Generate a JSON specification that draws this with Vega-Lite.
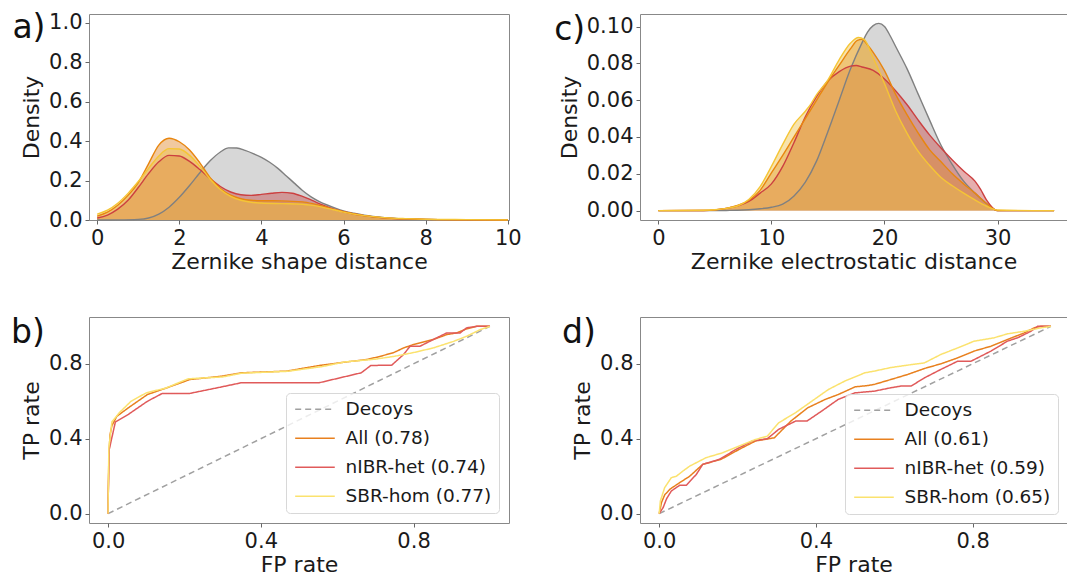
{
  "$schema": "https://vega.github.io/schema/vega-lite/v6.json",
  "background": "white",
  "padding": {"left": 10, "top": 11, "right": 0, "bottom": 0},
  "columns": 2,
  "spacing": {"row": 97, "column": 131},
  "bounds": "flush",
  "resolve": {"scale": {"x": "independent", "y": "independent", "color": "independent", "strokeDash": "independent", "fill": "independent", "stroke": "independent"}, "legend": {"color": "independent", "strokeDash": "independent"}},
  "concat": [
    {
      "width": 420, "height": 206,
      "data": {"name": "densA"},
      "title": {"text": "a)"},
      "layer": [
        {
          "mark": {"type": "area", "fillOpacity": 0.45, "interpolate": "monotone"},
          "encoding": {
            "x": {"field": "x", "type": "quantitative", "scale": {"domain": [-0.2, 10.03], "nice": false, "zero": false}, "axis": {"values": [0, 2, 4, 6, 8, 10], "title": "Zernike shape distance"}},
            "y": {"field": "y", "type": "quantitative", "stack": null, "scale": {"domain": [0, 1.045], "nice": false}, "axis": {"values": [0, 0.2, 0.4, 0.6, 0.8, 1.0], "format": ".1f", "title": "Density"}},
            "fill": {"field": "s", "type": "nominal", "scale": {"domain": ["Decoys", "All", "nIBR-het", "SBR-hom"], "range": ["#a6a6a6", "#e0872a", "#c84b4b", "#eec24a"]}, "legend": null}
          }
        },
        {
          "mark": {"type": "line", "strokeWidth": 1.4, "interpolate": "monotone"},
          "encoding": {
            "x": {"field": "x", "type": "quantitative"},
            "y": {"field": "y", "type": "quantitative"},
            "stroke": {"field": "s", "type": "nominal", "scale": {"domain": ["Decoys", "All", "nIBR-het", "SBR-hom"], "range": ["#808080", "#e8860f", "#cc4040", "#f5c535"]}, "legend": null}
          }
        }
      ]
    },
    {
      "width": 427, "height": 206,
      "data": {"name": "densC"},
      "title": {"text": "c)"},
      "view": {"stroke": null},
      "resolve": {"axis": {"x": "independent"}},
      "layer": [
        {
          "mark": {"type": "area", "fillOpacity": 0.45, "interpolate": "monotone"},
          "encoding": {
            "x": {"field": "x", "type": "quantitative", "scale": {"domain": [-1.62, 36.14], "nice": false, "zero": false}, "axis": {"values": [0, 10, 20, 30], "title": "Zernike electrostatic distance", "domain": true}},
            "y": {"field": "y", "type": "quantitative", "stack": null, "scale": {"domain": [-0.0051, 0.1068], "nice": false, "zero": false}, "axis": {"values": [0, 0.02, 0.04, 0.06, 0.08, 0.1], "format": ".2f", "title": "Density", "domain": true}},
            "fill": {"field": "s", "type": "nominal", "scale": {"domain": ["Decoys", "All", "nIBR-het", "SBR-hom"], "range": ["#a6a6a6", "#e0872a", "#c84b4b", "#eec24a"]}, "legend": null}
          }
        },
        {
          "mark": {"type": "line", "strokeWidth": 1.4, "interpolate": "monotone"},
          "encoding": {
            "x": {"field": "x", "type": "quantitative", "axis": {"orient": "top", "labels": false, "ticks": false, "title": null, "domain": true}},
            "y": {"field": "y", "type": "quantitative"},
            "stroke": {"field": "s", "type": "nominal", "scale": {"domain": ["Decoys", "All", "nIBR-het", "SBR-hom"], "range": ["#808080", "#e8860f", "#cc4040", "#f5c535"]}, "legend": null}
          }
        }
      ]
    },
    {
      "width": 420, "height": 206,
      "data": {"name": "rocB"},
      "title": {"text": "b)"},
      "encoding": {
        "x": {"field": "x", "type": "quantitative", "scale": {"domain": [-0.05, 1.05], "nice": false, "zero": false}, "axis": {"values": [0, 0.4, 0.8], "format": ".1f", "title": "FP rate"}},
        "y": {"field": "y", "type": "quantitative", "scale": {"domain": [-0.05, 1.05], "nice": false, "zero": false}, "axis": {"values": [0, 0.4, 0.8], "format": ".1f", "title": "TP rate"}},
        "color": {"field": "s", "type": "nominal", "scale": {"domain": ["Decoys", "All (0.78)", "nIBR-het (0.74)", "SBR-hom (0.77)"], "range": ["#a0a0a0", "#e8801e", "#e05a5a", "#fbe26e"]}, "legend": {"title": null, "offset": 10}},
        "strokeDash": {"field": "s", "type": "nominal", "scale": {"domain": ["Decoys", "All (0.78)", "nIBR-het (0.74)", "SBR-hom (0.77)"], "range": [[6, 4], [1, 0], [1, 0], [1, 0]]}, "legend": {"title": null, "offset": 10}},
        "order": {"field": "i", "type": "quantitative"}
      },
      "mark": {"type": "line", "strokeWidth": 1.5}
    },
    {
      "width": 427, "height": 206,
      "data": {"name": "rocD"},
      "title": {"text": "d)"},
      "view": {"stroke": null},
      "resolve": {"axis": {"x": "independent"}},
      "encoding": {
        "y": {"field": "y", "type": "quantitative", "scale": {"domain": [-0.05, 1.05], "nice": false, "zero": false}, "axis": {"values": [0, 0.4, 0.8], "format": ".1f", "title": "TP rate", "domain": true}},
        "color": {"field": "s", "type": "nominal", "scale": {"domain": ["Decoys", "All (0.61)", "nIBR-het (0.59)", "SBR-hom (0.65)"], "range": ["#a0a0a0", "#e8801e", "#e05a5a", "#fbe26e"]}, "legend": {"title": null, "offset": 9}},
        "strokeDash": {"field": "s", "type": "nominal", "scale": {"domain": ["Decoys", "All (0.61)", "nIBR-het (0.59)", "SBR-hom (0.65)"], "range": [[6, 4], [1, 0], [1, 0], [1, 0]]}, "legend": {"title": null, "offset": 9}},
        "order": {"field": "i", "type": "quantitative"}
      },
      "layer": [
        {
          "transform": [{"filter": "datum.s === 'Decoys'"}],
          "mark": {"type": "line", "strokeWidth": 1.5},
          "encoding": {
            "x": {"field": "x", "type": "quantitative", "scale": {"domain": [-0.049, 1.041], "nice": false, "zero": false}, "axis": {"values": [0, 0.4, 0.8], "format": ".1f", "title": "FP rate", "domain": true}}
          }
        },
        {
          "transform": [{"filter": "datum.s !== 'Decoys'"}],
          "mark": {"type": "line", "strokeWidth": 1.5},
          "encoding": {
            "x": {"field": "x", "type": "quantitative", "axis": {"orient": "top", "labels": false, "ticks": false, "title": null, "domain": true}}
          }
        }
      ]
    }
  ],
  "config": {
    "font": "DejaVu Sans",
    "view": {"stroke": "#888888", "strokeWidth": 1},
    "axis": {"grid": false, "domain": false, "domainColor": "#888888", "labelFont": "DejaVu Sans", "labelFontSize": 21, "labelColor": "#1a1a1a", "titleFont": "DejaVu Sans", "titleFontSize": 22, "titleFontWeight": "normal", "titleColor": "#1a1a1a", "tickColor": "#666666", "tickSize": 4, "labelPadding": 3, "labelFlush": false, "labelOverlap": false},
    "axisX": {"titlePadding": 3},
    "axisY": {"titlePadding": 5},
    "legend": {"orient": "bottom-right", "symbolType": "M-1,0L4.6,0", "symbolSize": 200, "symbolStrokeWidth": 1.5, "labelFont": "DejaVu Sans", "labelFontSize": 18.5, "labelColor": "#1a1a1a", "labelOffset": 34, "rowPadding": 10, "padding": 7, "fillColor": "rgba(255,255,255,0.8)", "strokeColor": "#d8d8d8", "cornerRadius": 4, "labelLimit": 300},
    "title": {"font": "DejaVu Sans", "fontSize": 33, "fontWeight": "normal", "color": "#111111", "orient": "left", "anchor": "end", "angle": 0, "align": "right", "baseline": "top", "offset": -58}
  },
  "datasets": {
    "densA": [
      {"s":"Decoys","x":0,"y":0},{"s":"Decoys","x":0.5,"y":0.0005},{"s":"Decoys","x":1.0,"y":0.003},{"s":"Decoys","x":1.25,"y":0.01},{"s":"Decoys","x":1.5,"y":0.03},{"s":"Decoys","x":1.75,"y":0.065},{"s":"Decoys","x":2.0,"y":0.115},{"s":"Decoys","x":2.25,"y":0.175},{"s":"Decoys","x":2.5,"y":0.24},{"s":"Decoys","x":2.75,"y":0.3},{"s":"Decoys","x":3.0,"y":0.345},{"s":"Decoys","x":3.2,"y":0.366},{"s":"Decoys","x":3.4,"y":0.365},{"s":"Decoys","x":3.6,"y":0.353},{"s":"Decoys","x":3.8,"y":0.337},{"s":"Decoys","x":4.0,"y":0.318},{"s":"Decoys","x":4.2,"y":0.293},{"s":"Decoys","x":4.4,"y":0.262},{"s":"Decoys","x":4.6,"y":0.225},{"s":"Decoys","x":4.8,"y":0.187},{"s":"Decoys","x":5.0,"y":0.15},{"s":"Decoys","x":5.2,"y":0.119},{"s":"Decoys","x":5.4,"y":0.095},{"s":"Decoys","x":5.6,"y":0.076},{"s":"Decoys","x":5.8,"y":0.06},{"s":"Decoys","x":6.0,"y":0.046},{"s":"Decoys","x":6.25,"y":0.034},{"s":"Decoys","x":6.5,"y":0.024},{"s":"Decoys","x":7.0,"y":0.012},{"s":"Decoys","x":7.5,"y":0.006},{"s":"Decoys","x":8.0,"y":0.003},{"s":"Decoys","x":9.0,"y":0.001},{"s":"Decoys","x":10,"y":0},
      {"s":"nIBR-het","x":0,"y":0.01},{"s":"nIBR-het","x":0.25,"y":0.025},{"s":"nIBR-het","x":0.5,"y":0.055},{"s":"nIBR-het","x":0.75,"y":0.1},{"s":"nIBR-het","x":1.0,"y":0.165},{"s":"nIBR-het","x":1.25,"y":0.235},{"s":"nIBR-het","x":1.5,"y":0.295},{"s":"nIBR-het","x":1.75,"y":0.328},{"s":"nIBR-het","x":2.0,"y":0.325},{"s":"nIBR-het","x":2.25,"y":0.297},{"s":"nIBR-het","x":2.5,"y":0.256},{"s":"nIBR-het","x":2.75,"y":0.21},{"s":"nIBR-het","x":3.0,"y":0.17},{"s":"nIBR-het","x":3.25,"y":0.142},{"s":"nIBR-het","x":3.5,"y":0.128},{"s":"nIBR-het","x":3.75,"y":0.125},{"s":"nIBR-het","x":4.0,"y":0.13},{"s":"nIBR-het","x":4.25,"y":0.136},{"s":"nIBR-het","x":4.5,"y":0.14},{"s":"nIBR-het","x":4.75,"y":0.136},{"s":"nIBR-het","x":5.0,"y":0.12},{"s":"nIBR-het","x":5.25,"y":0.098},{"s":"nIBR-het","x":5.5,"y":0.075},{"s":"nIBR-het","x":5.75,"y":0.056},{"s":"nIBR-het","x":6.0,"y":0.042},{"s":"nIBR-het","x":6.5,"y":0.022},{"s":"nIBR-het","x":7.0,"y":0.011},{"s":"nIBR-het","x":7.5,"y":0.006},{"s":"nIBR-het","x":8.0,"y":0.003},{"s":"nIBR-het","x":9.0,"y":0.001},{"s":"nIBR-het","x":10,"y":0},
      {"s":"All","x":0,"y":0.02},{"s":"All","x":0.25,"y":0.04},{"s":"All","x":0.5,"y":0.075},{"s":"All","x":0.75,"y":0.125},{"s":"All","x":1.0,"y":0.19},{"s":"All","x":1.25,"y":0.285},{"s":"All","x":1.5,"y":0.38},{"s":"All","x":1.75,"y":0.415},{"s":"All","x":2.0,"y":0.397},{"s":"All","x":2.25,"y":0.355},{"s":"All","x":2.5,"y":0.29},{"s":"All","x":2.75,"y":0.215},{"s":"All","x":3.0,"y":0.16},{"s":"All","x":3.25,"y":0.126},{"s":"All","x":3.5,"y":0.108},{"s":"All","x":3.75,"y":0.1},{"s":"All","x":4.0,"y":0.098},{"s":"All","x":4.5,"y":0.097},{"s":"All","x":5.0,"y":0.092},{"s":"All","x":5.25,"y":0.083},{"s":"All","x":5.5,"y":0.07},{"s":"All","x":5.75,"y":0.055},{"s":"All","x":6.0,"y":0.042},{"s":"All","x":6.5,"y":0.022},{"s":"All","x":7.0,"y":0.011},{"s":"All","x":7.5,"y":0.006},{"s":"All","x":8.0,"y":0.003},{"s":"All","x":9.0,"y":0.001},{"s":"All","x":10,"y":0},
      {"s":"SBR-hom","x":0,"y":0.03},{"s":"SBR-hom","x":0.25,"y":0.05},{"s":"SBR-hom","x":0.5,"y":0.085},{"s":"SBR-hom","x":0.75,"y":0.135},{"s":"SBR-hom","x":1.0,"y":0.195},{"s":"SBR-hom","x":1.25,"y":0.262},{"s":"SBR-hom","x":1.5,"y":0.325},{"s":"SBR-hom","x":1.75,"y":0.362},{"s":"SBR-hom","x":2.0,"y":0.36},{"s":"SBR-hom","x":2.25,"y":0.328},{"s":"SBR-hom","x":2.5,"y":0.272},{"s":"SBR-hom","x":2.75,"y":0.207},{"s":"SBR-hom","x":3.0,"y":0.155},{"s":"SBR-hom","x":3.25,"y":0.12},{"s":"SBR-hom","x":3.5,"y":0.1},{"s":"SBR-hom","x":3.75,"y":0.09},{"s":"SBR-hom","x":4.0,"y":0.086},{"s":"SBR-hom","x":4.5,"y":0.083},{"s":"SBR-hom","x":5.0,"y":0.08},{"s":"SBR-hom","x":5.25,"y":0.074},{"s":"SBR-hom","x":5.5,"y":0.064},{"s":"SBR-hom","x":5.75,"y":0.052},{"s":"SBR-hom","x":6.0,"y":0.04},{"s":"SBR-hom","x":6.5,"y":0.022},{"s":"SBR-hom","x":7.0,"y":0.012},{"s":"SBR-hom","x":7.5,"y":0.007},{"s":"SBR-hom","x":8.0,"y":0.004},{"s":"SBR-hom","x":9.0,"y":0.002},{"s":"SBR-hom","x":10,"y":0.0005}
    ],
    "densC": [
      {"s":"Decoys","x":0,"y":0},{"s":"Decoys","x":5,"y":0},{"s":"Decoys","x":6,"y":0.0001},{"s":"Decoys","x":7,"y":0.0002},{"s":"Decoys","x":8,"y":0.0005},{"s":"Decoys","x":9,"y":0.001},{"s":"Decoys","x":10,"y":0.0018},{"s":"Decoys","x":11,"y":0.0035},{"s":"Decoys","x":12,"y":0.008},{"s":"Decoys","x":13,"y":0.0155},{"s":"Decoys","x":14,"y":0.027},{"s":"Decoys","x":15,"y":0.043},{"s":"Decoys","x":16,"y":0.06},{"s":"Decoys","x":17,"y":0.077},{"s":"Decoys","x":18,"y":0.091},{"s":"Decoys","x":18.5,"y":0.097},{"s":"Decoys","x":19,"y":0.1005},{"s":"Decoys","x":19.5,"y":0.1017},{"s":"Decoys","x":20,"y":0.1},{"s":"Decoys","x":20.5,"y":0.095},{"s":"Decoys","x":21,"y":0.089},{"s":"Decoys","x":22,"y":0.077},{"s":"Decoys","x":23,"y":0.063},{"s":"Decoys","x":24,"y":0.049},{"s":"Decoys","x":25,"y":0.0355},{"s":"Decoys","x":26,"y":0.025},{"s":"Decoys","x":27,"y":0.016},{"s":"Decoys","x":28,"y":0.0095},{"s":"Decoys","x":29,"y":0.004},{"s":"Decoys","x":30,"y":0},{"s":"Decoys","x":35,"y":0},
      {"s":"nIBR-het","x":0,"y":0},{"s":"nIBR-het","x":4,"y":0.0001},{"s":"nIBR-het","x":5,"y":0.0004},{"s":"nIBR-het","x":6,"y":0.0012},{"s":"nIBR-het","x":7,"y":0.0025},{"s":"nIBR-het","x":8,"y":0.005},{"s":"nIBR-het","x":9,"y":0.0095},{"s":"nIBR-het","x":10,"y":0.0145},{"s":"nIBR-het","x":11,"y":0.024},{"s":"nIBR-het","x":12,"y":0.037},{"s":"nIBR-het","x":13,"y":0.051},{"s":"nIBR-het","x":14,"y":0.062},{"s":"nIBR-het","x":15,"y":0.0705},{"s":"nIBR-het","x":16,"y":0.0755},{"s":"nIBR-het","x":17,"y":0.0785},{"s":"nIBR-het","x":17.5,"y":0.0788},{"s":"nIBR-het","x":18,"y":0.078},{"s":"nIBR-het","x":19,"y":0.0762},{"s":"nIBR-het","x":20,"y":0.0715},{"s":"nIBR-het","x":21,"y":0.065},{"s":"nIBR-het","x":22,"y":0.0575},{"s":"nIBR-het","x":23,"y":0.049},{"s":"nIBR-het","x":24,"y":0.041},{"s":"nIBR-het","x":25,"y":0.034},{"s":"nIBR-het","x":26,"y":0.0275},{"s":"nIBR-het","x":27,"y":0.0215},{"s":"nIBR-het","x":28,"y":0.016},{"s":"nIBR-het","x":28.5,"y":0.0115},{"s":"nIBR-het","x":29,"y":0.006},{"s":"nIBR-het","x":30,"y":0},{"s":"nIBR-het","x":35,"y":0},
      {"s":"All","x":0,"y":0},{"s":"All","x":4,"y":0.0001},{"s":"All","x":5,"y":0.0004},{"s":"All","x":6,"y":0.0012},{"s":"All","x":7,"y":0.0028},{"s":"All","x":8,"y":0.0055},{"s":"All","x":9,"y":0.011},{"s":"All","x":10,"y":0.0205},{"s":"All","x":11,"y":0.03},{"s":"All","x":12,"y":0.04},{"s":"All","x":13,"y":0.05},{"s":"All","x":14,"y":0.06},{"s":"All","x":15,"y":0.07},{"s":"All","x":16,"y":0.079},{"s":"All","x":17,"y":0.088},{"s":"All","x":17.6,"y":0.0925},{"s":"All","x":18,"y":0.093},{"s":"All","x":18.5,"y":0.09},{"s":"All","x":19,"y":0.086},{"s":"All","x":20,"y":0.076},{"s":"All","x":21,"y":0.063},{"s":"All","x":22,"y":0.052},{"s":"All","x":23,"y":0.042},{"s":"All","x":24,"y":0.033},{"s":"All","x":25,"y":0.0265},{"s":"All","x":26,"y":0.02},{"s":"All","x":27,"y":0.0145},{"s":"All","x":28,"y":0.0095},{"s":"All","x":29,"y":0.004},{"s":"All","x":30,"y":0},{"s":"All","x":35,"y":0},
      {"s":"SBR-hom","x":0,"y":0},{"s":"SBR-hom","x":4,"y":0.0002},{"s":"SBR-hom","x":5,"y":0.0005},{"s":"SBR-hom","x":6,"y":0.0012},{"s":"SBR-hom","x":7,"y":0.0025},{"s":"SBR-hom","x":8,"y":0.006},{"s":"SBR-hom","x":9,"y":0.013},{"s":"SBR-hom","x":10,"y":0.024},{"s":"SBR-hom","x":11,"y":0.036},{"s":"SBR-hom","x":12,"y":0.047},{"s":"SBR-hom","x":13,"y":0.054},{"s":"SBR-hom","x":13.5,"y":0.058},{"s":"SBR-hom","x":14,"y":0.063},{"s":"SBR-hom","x":15,"y":0.071},{"s":"SBR-hom","x":16,"y":0.082},{"s":"SBR-hom","x":17,"y":0.091},{"s":"SBR-hom","x":17.7,"y":0.094},{"s":"SBR-hom","x":18.2,"y":0.093},{"s":"SBR-hom","x":19,"y":0.083},{"s":"SBR-hom","x":20,"y":0.069},{"s":"SBR-hom","x":21,"y":0.054},{"s":"SBR-hom","x":22,"y":0.042},{"s":"SBR-hom","x":23,"y":0.032},{"s":"SBR-hom","x":24,"y":0.0245},{"s":"SBR-hom","x":25,"y":0.018},{"s":"SBR-hom","x":26,"y":0.0135},{"s":"SBR-hom","x":27,"y":0.0095},{"s":"SBR-hom","x":28,"y":0.0058},{"s":"SBR-hom","x":29,"y":0.0025},{"s":"SBR-hom","x":30,"y":0.0003},{"s":"SBR-hom","x":35,"y":0}
    ],
    "rocB": [
      {"s":"Decoys","i":0,"x":0,"y":0},{"s":"Decoys","i":1,"x":1,"y":1},
      {"s":"All (0.78)","i":0,"x":0,"y":0},{"s":"All (0.78)","i":1,"x":0,"y":0.05},{"s":"All (0.78)","i":2,"x":0.002,"y":0.3},{"s":"All (0.78)","i":3,"x":0.005,"y":0.42},{"s":"All (0.78)","i":4,"x":0.01,"y":0.47},{"s":"All (0.78)","i":5,"x":0.023,"y":0.52},{"s":"All (0.78)","i":6,"x":0.053,"y":0.565},{"s":"All (0.78)","i":7,"x":0.103,"y":0.636},{"s":"All (0.78)","i":8,"x":0.154,"y":0.672},{"s":"All (0.78)","i":9,"x":0.214,"y":0.716},{"s":"All (0.78)","i":10,"x":0.298,"y":0.734},{"s":"All (0.78)","i":11,"x":0.349,"y":0.752},{"s":"All (0.78)","i":12,"x":0.468,"y":0.761},{"s":"All (0.78)","i":13,"x":0.553,"y":0.791},{"s":"All (0.78)","i":14,"x":0.62,"y":0.809},{"s":"All (0.78)","i":15,"x":0.678,"y":0.823},{"s":"All (0.78)","i":16,"x":0.713,"y":0.84},{"s":"All (0.78)","i":17,"x":0.748,"y":0.86},{"s":"All (0.78)","i":18,"x":0.774,"y":0.885},{"s":"All (0.78)","i":19,"x":0.8,"y":0.903},{"s":"All (0.78)","i":20,"x":0.852,"y":0.93},{"s":"All (0.78)","i":21,"x":0.887,"y":0.956},{"s":"All (0.78)","i":22,"x":0.913,"y":0.965},{"s":"All (0.78)","i":23,"x":0.939,"y":0.987},{"s":"All (0.78)","i":24,"x":0.965,"y":1.0},{"s":"All (0.78)","i":25,"x":1.0,"y":1.0},
      {"s":"nIBR-het (0.74)","i":0,"x":0,"y":0},{"s":"nIBR-het (0.74)","i":1,"x":0,"y":0.06},{"s":"nIBR-het (0.74)","i":2,"x":0.003,"y":0.343},{"s":"nIBR-het (0.74)","i":3,"x":0.019,"y":0.489},{"s":"nIBR-het (0.74)","i":4,"x":0.053,"y":0.53},{"s":"nIBR-het (0.74)","i":5,"x":0.103,"y":0.6},{"s":"nIBR-het (0.74)","i":6,"x":0.142,"y":0.642},{"s":"nIBR-het (0.74)","i":7,"x":0.214,"y":0.642},{"s":"nIBR-het (0.74)","i":8,"x":0.298,"y":0.677},{"s":"nIBR-het (0.74)","i":9,"x":0.349,"y":0.699},{"s":"nIBR-het (0.74)","i":10,"x":0.553,"y":0.699},{"s":"nIBR-het (0.74)","i":11,"x":0.663,"y":0.752},{"s":"nIBR-het (0.74)","i":12,"x":0.688,"y":0.791},{"s":"nIBR-het (0.74)","i":13,"x":0.743,"y":0.793},{"s":"nIBR-het (0.74)","i":14,"x":0.774,"y":0.85},{"s":"nIBR-het (0.74)","i":15,"x":0.791,"y":0.894},{"s":"nIBR-het (0.74)","i":16,"x":0.817,"y":0.894},{"s":"nIBR-het (0.74)","i":17,"x":0.852,"y":0.93},{"s":"nIBR-het (0.74)","i":18,"x":0.887,"y":0.965},{"s":"nIBR-het (0.74)","i":19,"x":0.922,"y":0.965},{"s":"nIBR-het (0.74)","i":20,"x":0.939,"y":0.992},{"s":"nIBR-het (0.74)","i":21,"x":0.965,"y":1.0},{"s":"nIBR-het (0.74)","i":22,"x":1.0,"y":1.0},
      {"s":"SBR-hom (0.77)","i":0,"x":0,"y":0},{"s":"SBR-hom (0.77)","i":1,"x":0,"y":0.05},{"s":"SBR-hom (0.77)","i":2,"x":0.002,"y":0.35},{"s":"SBR-hom (0.77)","i":3,"x":0.01,"y":0.49},{"s":"SBR-hom (0.77)","i":4,"x":0.03,"y":0.54},{"s":"SBR-hom (0.77)","i":5,"x":0.06,"y":0.6},{"s":"SBR-hom (0.77)","i":6,"x":0.1,"y":0.645},{"s":"SBR-hom (0.77)","i":7,"x":0.15,"y":0.67},{"s":"SBR-hom (0.77)","i":8,"x":0.21,"y":0.72},{"s":"SBR-hom (0.77)","i":9,"x":0.3,"y":0.73},{"s":"SBR-hom (0.77)","i":10,"x":0.35,"y":0.75},{"s":"SBR-hom (0.77)","i":11,"x":0.47,"y":0.76},{"s":"SBR-hom (0.77)","i":12,"x":0.56,"y":0.785},{"s":"SBR-hom (0.77)","i":13,"x":0.62,"y":0.81},{"s":"SBR-hom (0.77)","i":14,"x":0.7,"y":0.825},{"s":"SBR-hom (0.77)","i":15,"x":0.75,"y":0.84},{"s":"SBR-hom (0.77)","i":16,"x":0.8,"y":0.86},{"s":"SBR-hom (0.77)","i":17,"x":0.852,"y":0.885},{"s":"SBR-hom (0.77)","i":18,"x":0.905,"y":0.92},{"s":"SBR-hom (0.77)","i":19,"x":0.94,"y":0.948},{"s":"SBR-hom (0.77)","i":20,"x":0.975,"y":0.983},{"s":"SBR-hom (0.77)","i":21,"x":1.0,"y":1.0}
    ],
    "rocD": [
      {"s":"Decoys","i":0,"x":0,"y":0},{"s":"Decoys","i":1,"x":1,"y":1},
      {"s":"All (0.61)","i":0,"x":0,"y":0},{"s":"All (0.61)","i":1,"x":0.006,"y":0.06},{"s":"All (0.61)","i":2,"x":0.014,"y":0.1},{"s":"All (0.61)","i":3,"x":0.027,"y":0.13},{"s":"All (0.61)","i":4,"x":0.052,"y":0.165},{"s":"All (0.61)","i":5,"x":0.078,"y":0.2},{"s":"All (0.61)","i":6,"x":0.111,"y":0.263},{"s":"All (0.61)","i":7,"x":0.158,"y":0.29},{"s":"All (0.61)","i":8,"x":0.204,"y":0.343},{"s":"All (0.61)","i":9,"x":0.246,"y":0.388},{"s":"All (0.61)","i":10,"x":0.28,"y":0.4},{"s":"All (0.61)","i":11,"x":0.294,"y":0.405},{"s":"All (0.61)","i":12,"x":0.336,"y":0.494},{"s":"All (0.61)","i":13,"x":0.379,"y":0.565},{"s":"All (0.61)","i":14,"x":0.424,"y":0.61},{"s":"All (0.61)","i":15,"x":0.457,"y":0.636},{"s":"All (0.61)","i":16,"x":0.5,"y":0.677},{"s":"All (0.61)","i":17,"x":0.533,"y":0.684},{"s":"All (0.61)","i":18,"x":0.549,"y":0.69},{"s":"All (0.61)","i":19,"x":0.591,"y":0.716},{"s":"All (0.61)","i":20,"x":0.634,"y":0.743},{"s":"All (0.61)","i":21,"x":0.677,"y":0.775},{"s":"All (0.61)","i":22,"x":0.719,"y":0.8},{"s":"All (0.61)","i":23,"x":0.762,"y":0.832},{"s":"All (0.61)","i":24,"x":0.804,"y":0.868},{"s":"All (0.61)","i":25,"x":0.847,"y":0.894},{"s":"All (0.61)","i":26,"x":0.889,"y":0.93},{"s":"All (0.61)","i":27,"x":0.932,"y":0.965},{"s":"All (0.61)","i":28,"x":0.957,"y":0.992},{"s":"All (0.61)","i":29,"x":0.974,"y":1.0},{"s":"All (0.61)","i":30,"x":1.0,"y":1.0},
      {"s":"nIBR-het (0.59)","i":0,"x":0,"y":0},{"s":"nIBR-het (0.59)","i":1,"x":0.01,"y":0.032},{"s":"nIBR-het (0.59)","i":2,"x":0.019,"y":0.08},{"s":"nIBR-het (0.59)","i":3,"x":0.031,"y":0.121},{"s":"nIBR-het (0.59)","i":4,"x":0.052,"y":0.151},{"s":"nIBR-het (0.59)","i":5,"x":0.069,"y":0.151},{"s":"nIBR-het (0.59)","i":6,"x":0.095,"y":0.21},{"s":"nIBR-het (0.59)","i":7,"x":0.111,"y":0.263},{"s":"nIBR-het (0.59)","i":8,"x":0.154,"y":0.29},{"s":"nIBR-het (0.59)","i":9,"x":0.196,"y":0.343},{"s":"nIBR-het (0.59)","i":10,"x":0.238,"y":0.388},{"s":"nIBR-het (0.59)","i":11,"x":0.276,"y":0.4},{"s":"nIBR-het (0.59)","i":12,"x":0.305,"y":0.45},{"s":"nIBR-het (0.59)","i":13,"x":0.348,"y":0.494},{"s":"nIBR-het (0.59)","i":14,"x":0.377,"y":0.494},{"s":"nIBR-het (0.59)","i":15,"x":0.415,"y":0.548},{"s":"nIBR-het (0.59)","i":16,"x":0.457,"y":0.61},{"s":"nIBR-het (0.59)","i":17,"x":0.5,"y":0.645},{"s":"nIBR-het (0.59)","i":18,"x":0.549,"y":0.654},{"s":"nIBR-het (0.59)","i":19,"x":0.591,"y":0.672},{"s":"nIBR-het (0.59)","i":20,"x":0.617,"y":0.681},{"s":"nIBR-het (0.59)","i":21,"x":0.643,"y":0.681},{"s":"nIBR-het (0.59)","i":22,"x":0.677,"y":0.725},{"s":"nIBR-het (0.59)","i":23,"x":0.719,"y":0.77},{"s":"nIBR-het (0.59)","i":24,"x":0.762,"y":0.814},{"s":"nIBR-het (0.59)","i":25,"x":0.796,"y":0.814},{"s":"nIBR-het (0.59)","i":26,"x":0.847,"y":0.868},{"s":"nIBR-het (0.59)","i":27,"x":0.889,"y":0.921},{"s":"nIBR-het (0.59)","i":28,"x":0.915,"y":0.939},{"s":"nIBR-het (0.59)","i":29,"x":0.949,"y":0.974},{"s":"nIBR-het (0.59)","i":30,"x":0.966,"y":1.0},{"s":"nIBR-het (0.59)","i":31,"x":1.0,"y":1.0},
      {"s":"SBR-hom (0.65)","i":0,"x":0,"y":0},{"s":"SBR-hom (0.65)","i":1,"x":0.003,"y":0.068},{"s":"SBR-hom (0.65)","i":2,"x":0.014,"y":0.139},{"s":"SBR-hom (0.65)","i":3,"x":0.031,"y":0.192},{"s":"SBR-hom (0.65)","i":4,"x":0.044,"y":0.2},{"s":"SBR-hom (0.65)","i":5,"x":0.061,"y":0.228},{"s":"SBR-hom (0.65)","i":6,"x":0.078,"y":0.254},{"s":"SBR-hom (0.65)","i":7,"x":0.12,"y":0.299},{"s":"SBR-hom (0.65)","i":8,"x":0.162,"y":0.325},{"s":"SBR-hom (0.65)","i":9,"x":0.204,"y":0.361},{"s":"SBR-hom (0.65)","i":10,"x":0.246,"y":0.396},{"s":"SBR-hom (0.65)","i":11,"x":0.276,"y":0.414},{"s":"SBR-hom (0.65)","i":12,"x":0.305,"y":0.485},{"s":"SBR-hom (0.65)","i":13,"x":0.348,"y":0.539},{"s":"SBR-hom (0.65)","i":14,"x":0.39,"y":0.601},{"s":"SBR-hom (0.65)","i":15,"x":0.432,"y":0.663},{"s":"SBR-hom (0.65)","i":16,"x":0.474,"y":0.708},{"s":"SBR-hom (0.65)","i":17,"x":0.525,"y":0.752},{"s":"SBR-hom (0.65)","i":18,"x":0.549,"y":0.761},{"s":"SBR-hom (0.65)","i":19,"x":0.591,"y":0.78},{"s":"SBR-hom (0.65)","i":20,"x":0.634,"y":0.793},{"s":"SBR-hom (0.65)","i":21,"x":0.677,"y":0.805},{"s":"SBR-hom (0.65)","i":22,"x":0.719,"y":0.85},{"s":"SBR-hom (0.65)","i":23,"x":0.762,"y":0.885},{"s":"SBR-hom (0.65)","i":24,"x":0.804,"y":0.921},{"s":"SBR-hom (0.65)","i":25,"x":0.855,"y":0.939},{"s":"SBR-hom (0.65)","i":26,"x":0.889,"y":0.96},{"s":"SBR-hom (0.65)","i":27,"x":0.932,"y":0.974},{"s":"SBR-hom (0.65)","i":28,"x":0.974,"y":0.992},{"s":"SBR-hom (0.65)","i":29,"x":1.0,"y":1.0}
    ]
  }
}
